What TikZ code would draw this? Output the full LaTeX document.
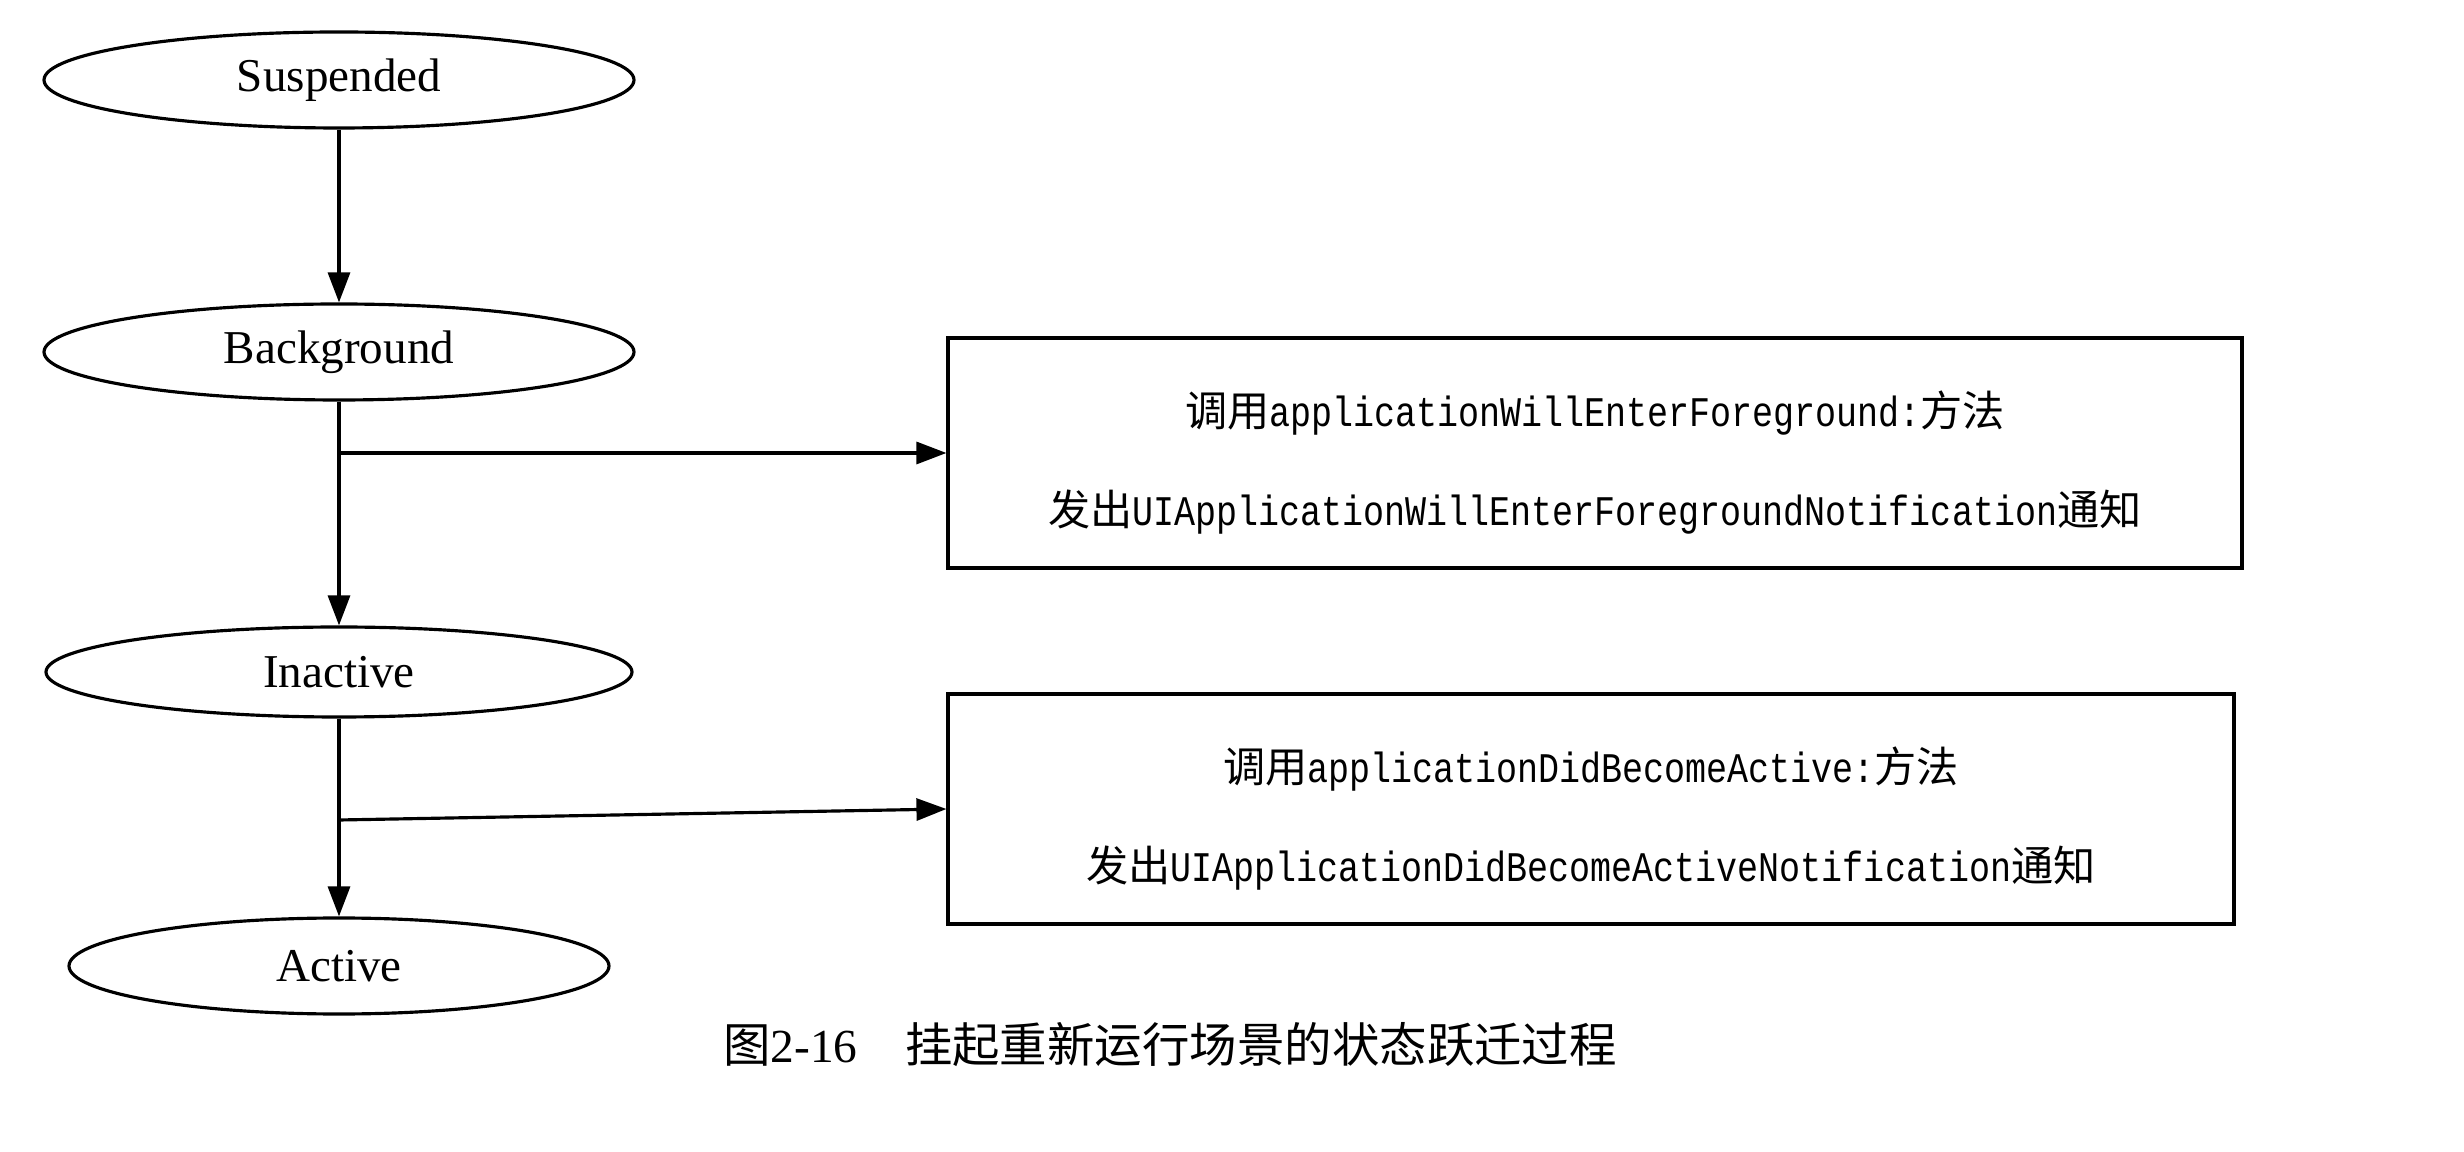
\documentclass[tikz,border=0pt]{standalone}
\usepackage{fontspec}
\setmainfont{Liberation Serif}
\newfontfamily\cjk{Noto Sans CJK SC}
\newfontfamily\codefont[FakeStretch=0.83]{Liberation Mono}
\usetikzlibrary{shapes.geometric,arrows.meta}

\begin{document}
\begin{tikzpicture}[x=0.1mm, y=-0.1mm, line width=0.9pt,
        state/.style={draw, ellipse, minimum width=59mm, minimum height=9.6mm, inner sep=0pt, font=\fontsize{13.4}{16}\selectfont},
        callbox/.style={draw, minimum height=23mm, align=center, font=\fontsize{12}{28.2}\selectfont},
        >={Triangle[length=3mm, width=2.2mm]}]
        \useasboundingbox (0,0) rectangle (2464,1152);

        \node[state] (susp) at (339,80) {Suspended};
        \node[state] (bg) at (339,352) {Background};
        \node[state, minimum width=58.6mm, minimum height=9mm] (inact) at (339,672) {Inactive};
        \node[state, minimum width=54mm] (act) at (339,966) {Active};

        \node[callbox, minimum width=129.4mm] (willenter) at (1595,453)
            {\rule{0pt}{5.5mm}{\cjk 调用}{\codefont applicationWillEnterForeground:}{\cjk 方法}\\
             {\cjk 发出}{\codefont UIApplicationWillEnterForegroundNotification}{\cjk 通知}};
        \node[callbox, minimum width=128.6mm] (didbecome) at (1591,809)
            {\rule{0pt}{5.5mm}{\cjk 调用}{\codefont applicationDidBecomeActive:}{\cjk 方法}\\
             {\cjk 发出}{\codefont UIApplicationDidBecomeActiveNotification}{\cjk 通知}};

        \draw[->] (susp.south) -- (bg.north);
        \draw[->] (bg.south) -- (inact.north);
        \draw[->] (inact.south) -- (act.north);

        \coordinate (fork1) at (bg.south |- willenter.west);
        \coordinate (fork2) at (339,820);
        \draw[->] (fork1) -- (willenter.west);
        \draw[->] (fork2) -- (didbecome.west);

        \node[font=\fontsize{13.5}{16}\selectfont] (caption) at (1170,1045)
            {{\cjk 图}2-16\hspace{1em}{\cjk 挂起重新运行场景的状态跃迁过程}};
    \end{tikzpicture}
\end{document}
